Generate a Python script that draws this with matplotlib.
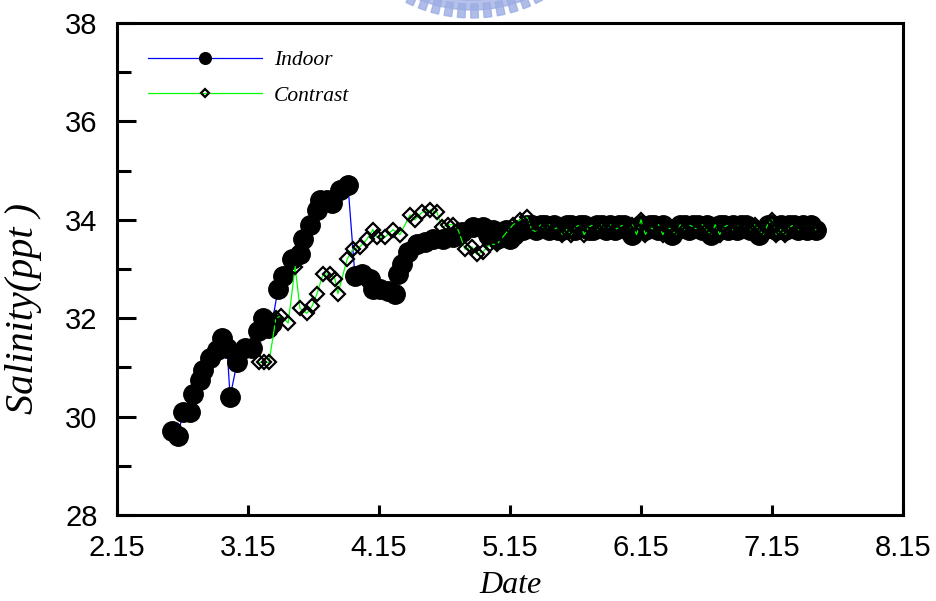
import numpy as np
import matplotlib.pyplot as plt
from matplotlib.ticker import MultipleLocator
from matplotlib.patches import Wedge, Polygon

# days counted from Feb 15, 30 days per tick
indoor_day = [12.6, 14.0, 15.1, 16.7, 17.4, 19.0, 19.7, 21.3, 22.9, 24.0,
              25.2, 25.9, 27.5, 29.3, 30.9, 32.3, 33.4, 34.6, 35.5, 36.9,
              38.0, 40.1, 41.9, 42.6, 44.2, 45.8, 46.5, 48.1, 49.2, 51.1,
              52.9, 54.5, 56.1, 57.9, 58.6, 60.2, 62.1, 63.7, 64.3, 65.3,
              66.6, 68.7, 70.5, 72.4, 74.7, 76.9, 79.0, 81.5, 83.8,
              85, 86, 87, 88, 89, 90, 91, 92, 93, 94, 95, 96, 97, 98, 99,
              100, 101, 102, 103, 104, 105, 106, 107, 108, 109, 110, 111,
              112, 113, 114, 115, 116, 117, 118, 119, 120, 121, 122, 123,
              124, 125, 126, 127, 128, 129, 130, 131, 132, 133, 134, 135,
              136, 137, 138, 139, 140, 141, 142, 143, 144, 145, 146, 147,
              148, 149, 150, 151, 152, 153, 154, 155, 156, 157, 158, 159, 160]
indoor_sal = [29.7, 29.6, 30.1, 30.1, 30.45, 30.75, 30.95, 31.2, 31.35, 31.6,
              31.4, 30.4, 31.1, 31.4, 31.4, 31.75, 32.0, 31.8, 31.9, 32.6,
              32.85, 33.2, 33.3, 33.6, 33.9, 34.2, 34.4, 34.4, 34.35, 34.6,
              34.7, 32.85, 32.9, 32.8, 32.6, 32.6, 32.55, 32.5, 32.9, 33.1,
              33.35, 33.5, 33.55, 33.6, 33.6, 33.65, 33.75, 33.85, 33.85,
              33.7, 33.8, 33.6, 33.7, 33.8, 33.6, 33.7, 33.8, 33.8, 33.9, 33.9,
              33.8, 33.9, 33.9, 33.8, 33.9, 33.8, 33.8, 33.9, 33.9, 33.8,
              33.9, 33.9, 33.8, 33.8, 33.9, 33.9, 33.8, 33.9, 33.8, 33.9,
              33.9, 33.8, 33.7, 33.8, 33.9, 33.8, 33.9, 33.9, 33.8, 33.9,
              33.8, 33.7, 33.8, 33.9, 33.9, 33.8, 33.9, 33.9, 33.8, 33.9,
              33.7, 33.8, 33.9, 33.9, 33.8, 33.9, 33.8, 33.9, 33.9, 33.8,
              33.8, 33.7, 33.8, 33.9, 33.9, 33.8, 33.9, 33.8, 33.9, 33.9,
              33.8, 33.9, 33.8, 33.9, 33.8]

contrast_day = [32.5, 33.7, 34.8, 36.4, 37.6, 39.2, 40.8, 41.9, 43.5, 44.7,
                45.8, 47.2, 48.8, 49.9, 50.6, 52.7, 54.0, 55.6, 57.2, 58.6,
                59.5, 61.4, 63.2, 64.8, 67.1, 68.2, 69.8, 71.7, 73.3, 74.4,
                75.8, 76.9, 78.1, 79.7, 81.3, 82.4, 83.8, 85.4, 87.0, 88.8,
                90.7, 92.3, 93.9,
                95, 96, 97, 98, 99, 100, 101, 102, 103, 104, 105, 106, 107,
                108, 109, 110, 111, 112, 113, 114, 115, 116, 117, 118, 119,
                120, 121, 122, 123, 124, 125, 126, 127, 128, 129, 130, 131,
                132, 133, 134, 135, 136, 137, 138, 139, 140, 141, 142, 143,
                144, 145, 146, 147, 148, 149, 150, 151, 152, 153, 154, 155,
                156, 157, 158, 159, 160]
contrast_sal = [31.1, 31.1, 31.1, 32.0, 32.05, 31.9, 33.05, 32.2, 32.1, 32.25,
                32.5, 32.9, 32.9, 32.8, 32.5, 33.2, 33.4, 33.45, 33.6, 33.8,
                33.65, 33.65, 33.8, 33.7, 34.1, 34.0, 34.15, 34.2, 34.15, 33.85,
                33.9, 33.9, 33.8, 33.4, 33.45, 33.3, 33.35, 33.5, 33.5, 33.7,
                33.9, 34.0, 34.05,
                33.8, 33.75, 33.9, 33.8, 33.9, 33.8, 33.85, 33.7, 33.8, 33.7,
                33.85, 33.9, 33.7, 33.85, 33.9, 33.8, 33.9, 33.8, 33.9, 33.8,
                33.85, 33.9, 33.8, 33.9, 33.7, 34.0,
                33.7, 33.85, 33.8, 33.9, 33.7, 33.85, 33.8, 33.7, 33.9, 33.8,
                33.9, 33.85, 33.8, 33.9, 33.8, 33.7, 33.9, 33.7, 33.85, 33.9,
                33.8, 33.9, 33.85, 33.9, 33.8, 33.9, 33.8, 33.7, 33.9, 34.0,
                33.7, 33.8, 33.7, 33.85, 33.9, 33.8, 33.9, 33.85, 33.9, 33.8]

xtick_labels = ['2.15', '3.15', '4.15', '5.15', '6.15', '7.15', '8.15']

plt.rcParams['font.family'] = ['Liberation Sans', 'DejaVu Sans']
serif_it = {'family': 'Liberation Serif', 'style': 'italic'}

fig = plt.figure(figsize=(9.37, 6.01), dpi=100)

# faint gear-shaped logo peeking in at the top edge
bg = fig.add_axes([0, 0, 1, 1], zorder=-1)
bg.set_xlim(0, 937)
bg.set_ylim(601, 0)
bg.axis('off')
logo_col = '#9cade3'
cx, cy = 472, -130
bg.add_patch(Wedge((cx, cy), 140, 0, 360, width=10, color=logo_col, alpha=0.75))
for ang in np.arange(63, 118, 5.2):
    a = np.radians(ang)
    da = np.radians(1.5)
    r0, r1 = 134, 148
    pts = [(cx + r0*np.cos(a - da), cy + r0*np.sin(a - da)),
           (cx + r1*np.cos(a - da), cy + r1*np.sin(a - da)),
           (cx + r1*np.cos(a + da), cy + r1*np.sin(a + da)),
           (cx + r0*np.cos(a + da), cy + r0*np.sin(a + da))]
    bg.add_patch(Polygon(pts, closed=True, color=logo_col, alpha=0.8))

ax = fig.add_axes([117/937, 86/601, 786/937, 492/601])
ax.patch.set_alpha(0)

ax.plot(indoor_day, indoor_sal, '-', color='#0000ff', lw=0.9,
        marker='o', ms=14, mfc='k', mec='k', label='Indoor', zorder=2)
ax.plot(contrast_day, contrast_sal, '-', color='#00ff00', lw=0.9,
        marker='D', ms=7.5, mfc='none', mec='k', mew=1.6,
        label='Contrast', zorder=3)

ax.set_xlim(0, 180)
ax.set_ylim(28, 38)
ax.set_xticks(np.arange(0, 181, 30))
ax.set_xticklabels(xtick_labels)
ax.yaxis.set_major_locator(MultipleLocator(2))
ax.yaxis.set_minor_locator(MultipleLocator(1))

for axis in ['top', 'bottom', 'left', 'right']:
    ax.spines[axis].set_linewidth(2.2)
ax.tick_params(axis='y', which='major', direction='in', length=14, width=2.2,
               labelsize=21, pad=14, right=False)
ax.tick_params(axis='y', which='minor', direction='in', length=10, width=2.2,
               right=False)
ax.tick_params(axis='x', which='major', direction='in', length=7, width=2.2,
               labelsize=21, pad=14, top=False)

ax.set_xlabel('Date', fontdict=serif_it, fontsize=23, labelpad=6)
ax.set_ylabel('Salinity(ppt )', fontdict=serif_it, fontsize=29)
ax.yaxis.set_label_coords(-0.095, 0.42)

leg = ax.legend(loc='upper left', frameon=False, handlelength=5.3,
                handletextpad=0.55, labelspacing=0.72,
                bbox_to_anchor=(0.02, 0.975), borderaxespad=0.3,
                prop={'family': 'Liberation Serif', 'style': 'italic', 'size': 15.5})
for h in leg.legend_handles:
    h.set_markersize(h.get_markersize() * 0.6)

fig.savefig('out.png', dpi=100)
